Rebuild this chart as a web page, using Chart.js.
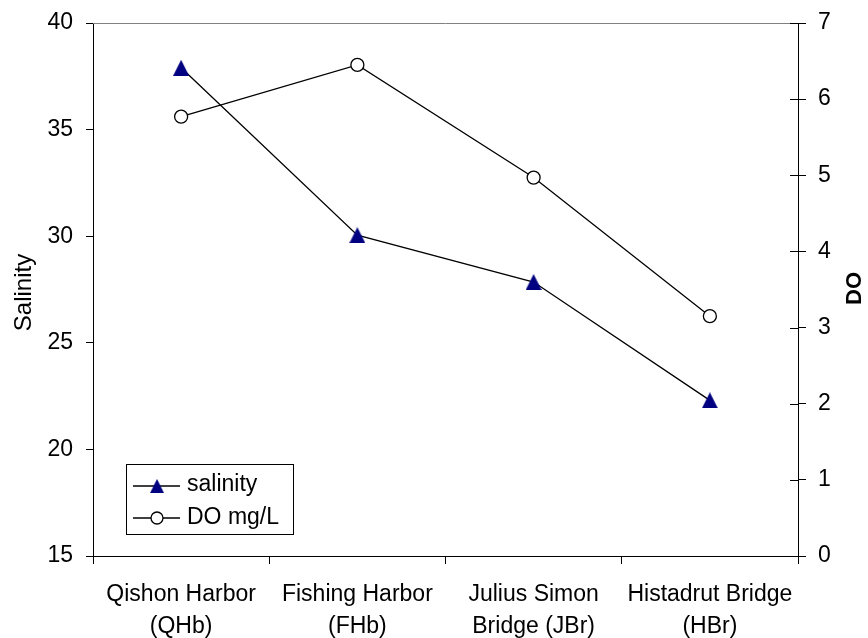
<!DOCTYPE html>
<html>
<head>
<meta charset="utf-8">
<title>Salinity and DO along the sampling sites</title>
<script src="https://cdn.jsdelivr.net/npm/chart.js@4/dist/chart.umd.min.js"></script>
<style>
  html, body { margin: 0; padding: 0; background: #ffffff; }
  #wrap { width: 868px; height: 638px; }
</style>
</head>
<body>
<div id="wrap"><canvas id="c" width="868" height="638"></canvas></div>
<script>
// Sampling sites (two-line category labels)
const sites = [
  ['Qishon Harbor', '(QHb)'],
  ['Fishing Harbor', '(FHb)'],
  ['Julius Simon', 'Bridge (JBr)'],
  ['Histadrut Bridge', '(HBr)']
];
// Measured values per site
const salinity = [37.9, 30.05, 27.85, 22.3];
const dissolvedOxygen = [5.77, 6.45, 4.97, 3.15];
// Axis tick values
const salinityTicks = [15, 20, 25, 30, 35, 40];
const doTicks = [0, 1, 2, 3, 4, 5, 6, 7];
// Text
const salinityTitle = 'Salinity';
const doTitle = 'DO';
const legendLabels = ['salinity', 'DO mg/L'];

const FONT = '"Liberation Sans", Arial, sans-serif';
const NAVY = '#000080';

// Upward filled triangle marker, centred on its point
function makeTriangle(w, h, color) {
  const c = document.createElement('canvas');
  c.width = w; c.height = h;
  const g = c.getContext('2d');
  g.fillStyle = color;
  g.beginPath();
  g.moveTo(w / 2, 0);
  g.lineTo(w, h);
  g.lineTo(0, h);
  g.closePath();
  g.fill();
  return c;
}
const triangle = makeTriangle(16, 16, NAVY);

// Fixed axis box sizes; the plot edges are set by the layout padding
function fixVertical(width) {
  return function (s) {
    s.width = width;
    s.paddingTop = 0;
    s.paddingBottom = 0;
  };
}

// Extra drawing: top frame line, inner ticks on the right axis,
// axis titles and the boxed legend.
const decor = {
  id: 'decor',
  afterDraw(chart) {
    const ctx = chart.ctx;
    const a = chart.chartArea;
    ctx.save();

    // thin grey line closing the plot on top
    ctx.strokeStyle = '#808080';
    ctx.lineWidth = 1;
    ctx.beginPath();
    ctx.moveTo(a.left, Math.round(a.top) + 0.5);
    ctx.lineTo(a.right, Math.round(a.top) + 0.5);
    ctx.stroke();

    // right axis ticks also reach into the plot
    const y1 = chart.scales.y1;
    ctx.strokeStyle = '#000000';
    ctx.beginPath();
    y1.ticks.forEach(t => {
      const py = Math.round(y1.getPixelForValue(t.value)) + 0.5;
      ctx.moveTo(a.right - 8, py);
      ctx.lineTo(a.right, py);
    });
    ctx.stroke();

    // left axis title
    ctx.fillStyle = '#000000';
    ctx.textAlign = 'center';
    ctx.textBaseline = 'middle';
    ctx.save();
    ctx.translate(24, (a.top + a.bottom) / 2 + 3);
    ctx.rotate(-Math.PI / 2);
    ctx.font = '24px ' + FONT;
    ctx.fillText(salinityTitle, 0, 0);
    ctx.restore();

    // right axis title (reads bottom to top)
    ctx.save();
    ctx.translate(855, (a.top + a.bottom) / 2 - 1);
    ctx.rotate(-Math.PI / 2);
    ctx.font = 'bold 22px ' + FONT;
    ctx.fillText(doTitle, 0, 0);
    ctx.restore();

    // legend box
    const lx = a.left + 33, ly = a.bottom - 92, lw = 167, lh = 70;
    ctx.fillStyle = '#ffffff';
    ctx.fillRect(lx, ly, lw, lh);
    ctx.strokeStyle = '#000000';
    ctx.lineWidth = 1;
    ctx.strokeRect(lx + 0.5, ly + 0.5, lw, lh);

    const rows = [ly + 22, ly + 54];
    ctx.lineWidth = 1.3;
    rows.forEach(ry => {
      ctx.beginPath();
      ctx.moveTo(lx + 7, ry);
      ctx.lineTo(lx + 54, ry);
      ctx.stroke();
    });
    ctx.drawImage(triangle, lx + 31 - 7, rows[0] - 7, 14, 14);
    ctx.beginPath();
    ctx.arc(lx + 31, rows[1], 6, 0, Math.PI * 2);
    ctx.fillStyle = '#ffffff';
    ctx.fill();
    ctx.stroke();

    ctx.fillStyle = '#000000';
    ctx.textAlign = 'left';
    ctx.textBaseline = 'middle';
    ctx.font = '23px ' + FONT;
    ctx.fillText(legendLabels[0], lx + 61, rows[0] - 1);
    ctx.fillText(legendLabels[1], lx + 61, rows[1]);

    ctx.restore();
  }
};

new Chart(document.getElementById('c'), {
  type: 'line',
  data: {
    labels: sites,
    datasets: [
      {
        label: legendLabels[0],
        data: salinity,
        yAxisID: 'y',
        borderColor: '#000000',
        borderWidth: 1.3,
        pointStyle: triangle,
        pointRadius: 8,
        pointHoverRadius: 8,
        tension: 0,
        fill: false
      },
      {
        label: legendLabels[1],
        data: dissolvedOxygen,
        yAxisID: 'y1',
        borderColor: '#000000',
        borderWidth: 1.3,
        pointStyle: 'circle',
        pointRadius: 6.5,
        pointHoverRadius: 6.5,
        pointBackgroundColor: '#ffffff',
        pointBorderColor: '#000000',
        pointBorderWidth: 1.3,
        tension: 0,
        fill: false
      }
    ]
  },
  options: {
    responsive: false,
    animation: false,
    devicePixelRatio: 1,
    layout: { padding: { top: 23, left: 0, right: 0, bottom: 0 } },
    plugins: {
      legend: { display: false },
      tooltip: { enabled: false },
      title: { display: false }
    },
    scales: {
      x: {
        type: 'category',
        offset: true,
        grid: {
          offset: true,
          drawOnChartArea: false,
          drawTicks: true,
          tickLength: 8,
          color: '#000000'
        },
        border: { display: true, color: '#000000', width: 1 },
        ticks: {
          color: '#000000',
          font: { family: FONT, size: 23, lineHeight: 1.38 },
          padding: 15,
          maxRotation: 0,
          autoSkip: false
        },
        afterFit(s) { s.height = 82; }
      },
      y: {
        position: 'left',
        min: salinityTicks[0],
        max: salinityTicks[salinityTicks.length - 1],
        afterBuildTicks(s) { s.ticks = salinityTicks.map(v => ({ value: v })); },
        grid: {
          drawOnChartArea: false,
          drawTicks: true,
          tickLength: 7,
          color: '#000000'
        },
        border: { display: true, color: '#000000', width: 1 },
        ticks: {
          color: '#000000',
          font: { family: FONT, size: 23 },
          padding: 13
        },
        afterFit: fixVertical(93)
      },
      y1: {
        position: 'right',
        min: doTicks[0],
        max: doTicks[doTicks.length - 1],
        afterBuildTicks(s) { s.ticks = doTicks.map(v => ({ value: v })); },
        grid: {
          drawOnChartArea: false,
          drawTicks: true,
          tickLength: 8,
          color: '#000000'
        },
        border: { display: true, color: '#000000', width: 1 },
        ticks: {
          color: '#000000',
          font: { family: FONT, size: 23 },
          padding: 12
        },
        afterFit: fixVertical(70)
      }
    }
  },
  plugins: [decor]
});
</script>
</body>
</html>
